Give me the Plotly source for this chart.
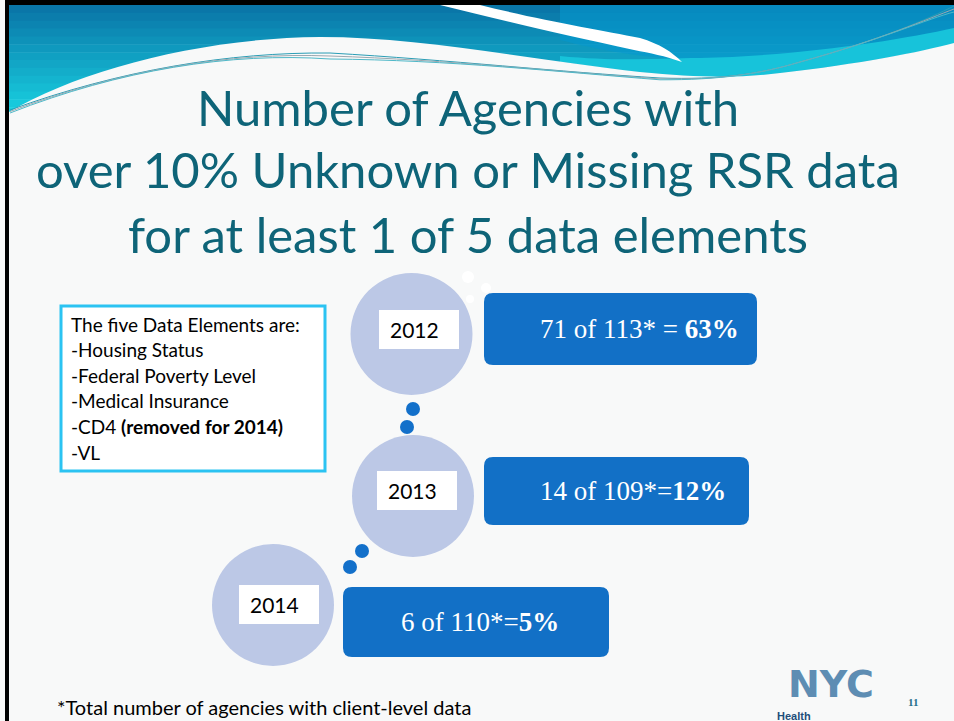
import plotly.graph_objects as go

# ---- data ----
years = ["2012", "2013", "2014"]
flagged = [71, 14, 6]
totals = [113, 109, 110]
percents = [63, 12, 5]
elements = ["-Housing Status", "-Federal Poverty Level", "-Medical Insurance",
            "-CD4 <b>(removed for 2014)</b>", "-VL"]
title_lines = ["Number of Agencies with",
               "over 10% Unknown or Missing RSR data",
               "for at least 1 of 5 data elements"]

# ---- layout constants (positions in page pixels) ----
W, H = 954, 721
circ_c = [(411.5, 334), (413, 496), (273, 605)]
circ_r = 61
label_box = [(379, 310, 459, 349), (377, 471, 457, 510), (239, 585, 319, 624)]
blue_box = [(484, 293, 757, 365), (484, 457, 749, 525), (343, 587, 609, 657)]
text_c = [(639, 329), (633, 491), (480, 622)]
dots = [(413, 409), (407, 427), (362, 551), (350, 567)]

TEAL = "#0E6478"
CIRC = "#BCC8E6"
BLUE = "#1270C6"
BG = "#F8F9F9"
FONT = "Lato"
SERIF = "Liberation Serif"

shapes = []
ann = []

def hexmix(a, b, t):
    a = [int(a[i:i+2], 16) for i in (1, 3, 5)]
    b = [int(b[i:i+2], 16) for i in (1, 3, 5)]
    return "#%02x%02x%02x" % tuple(round(a[k] + (b[k]-a[k])*t) for k in range(3))

# header gradient bands
nb = 14
y0, y1 = 5, 115
for i in range(nb):
    ya = y0 + (y1-y0)*i/nb
    yb = y0 + (y1-y0)*(i+1)/nb + 0.5
    shapes.append(dict(type="rect", x0=9, x1=W, y0=ya, y1=yb, line_width=0,
                       fillcolor=hexmix("#0A76A8", "#18D0E0", i/(nb-1)), layer="below"))
# right-side medium blue tint
shapes.append(dict(type="path", layer="below", line_width=0, fillcolor="#0598CF", opacity=0.6,
                   path="M 560,5 L 954,5 L 954,40 C 900,50 800,62 700,60 C 640,58 600,50 560,40 Z"))
# cyan stripe on the right
shapes.append(dict(type="path", layer="below", line_width=0, fillcolor="#17C3DA",
                   path="M 560,56 C 620,62 660,58 700,58 C 800,56 900,40 954,28 L 954,44 "
                        "C 920,52 860,64 780,73 C 740,78 700,78 640,72 C 600,68 580,64 560,62 Z"))
# white streak
shapes.append(dict(type="path", layer="below", line_width=0, fillcolor="white",
                   path="M 440,5 L 480,5 C 540,20 600,30 640,38 C 660,44 672,52 682,62 "
                        "C 665,56 650,53 634,50 C 560,34 500,20 440,5 Z"))
# white area below the wave
shapes.append(dict(type="path", layer="below", line_width=0, fillcolor=BG,
                   path="M 9,112 C 80,70 200,38 320,37 C 420,37 520,58 640,72 "
                        "C 700,78 740,78 780,73 C 860,64 920,52 954,43 L 954,130 L 9,130 Z"))
# thin decorative lines
for off, col in [(0, "#2A9DB5"), (3, "#9AA8B0"), (6, "#4FB8C8")]:
    shapes.append(dict(type="path", layer="below", line=dict(color=col, width=1),
                       path=f"M 10,{110+off*0.5} C 120,70 230,52 330,{53+off} "
                            f"C 450,60 560,72 660,{78+off*0.3} C 720,80 760,74 800,62 C 880,40 930,18 954,{6+off}"))

# border
shapes.append(dict(type="rect", x0=5, x1=W+2, y0=0, y1=5, line_width=0, fillcolor="black"))
shapes.append(dict(type="rect", x0=5, x1=9, y0=0, y1=H+2, line_width=0, fillcolor="black"))

# title
for line, yc in zip(title_lines, [107, 169, 234]):
    ann.append(dict(x=468, y=yc, text=line, showarrow=False, xanchor="center", yanchor="middle",
                    font=dict(family=FONT, size=49, color=TEAL)))

# text box
shapes.append(dict(type="rect", x0=61, x1=325, y0=306, y1=471, fillcolor="white",
                   line=dict(color="#2BC3F2", width=3)))
box_lines = ["The five Data Elements are:"] + elements
for i, t in enumerate(box_lines):
    ann.append(dict(x=69, y=324 + i*25.6, text=t, showarrow=False, xanchor="left", yanchor="middle",
                    font=dict(family=FONT, size=19, color="black")))

# small white dots near first circle
for (cx, cy, r) in [(468, 277, 6), (486, 288, 5), (470, 299, 4)]:
    shapes.append(dict(type="circle", x0=cx-r, x1=cx+r, y0=cy-r, y1=cy+r, line_width=0, fillcolor="white"))

# circles, labels, blue boxes
for i in range(len(years)):
    cx, cy = circ_c[i]
    shapes.append(dict(type="circle", x0=cx-circ_r, x1=cx+circ_r, y0=cy-circ_r, y1=cy+circ_r,
                       line_width=0, fillcolor=CIRC))
    lx0, ly0, lx1, ly1 = label_box[i]
    shapes.append(dict(type="rect", x0=lx0, x1=lx1, y0=ly0, y1=ly1, line_width=0, fillcolor="white"))
    ann.append(dict(x=lx0+9, y=(ly0+ly1)/2, text=years[i], showarrow=False, xanchor="left",
                    yanchor="middle", font=dict(family=FONT, size=21, color="black")))
    bx0, by0, bx1, by1 = blue_box[i]
    r = 9
    shapes.append(dict(type="path", line_width=0, fillcolor=BLUE,
                       path=f"M {bx0+r},{by0} L {bx1-r},{by0} Q {bx1},{by0} {bx1},{by0+r} "
                            f"L {bx1},{by1-r} Q {bx1},{by1} {bx1-r},{by1} L {bx0+r},{by1} "
                            f"Q {bx0},{by1} {bx0},{by1-r} L {bx0},{by0+r} Q {bx0},{by0} {bx0+r},{by0} Z"))
    if i == 0:
        txt = f"{flagged[i]} of {totals[i]}* = <b>{percents[i]}%</b>"
    else:
        txt = f"{flagged[i]} of {totals[i]}*=<b>{percents[i]}%</b>"
    tx, ty = text_c[i]
    ann.append(dict(x=tx, y=ty, text=txt, showarrow=False, xanchor="center", yanchor="middle",
                    font=dict(family=SERIF, size=27, color="white")))

for (cx, cy) in dots:
    shapes.append(dict(type="circle", x0=cx-7, x1=cx+7, y0=cy-7, y1=cy+7, line_width=0, fillcolor="#1370CA"))

# footer
ann.append(dict(x=55, y=707, text="*Total number of agencies with client-level data", showarrow=False,
                xanchor="left", yanchor="middle", font=dict(family=FONT, size=20, color="black")))
# NYC Health logo
ann.append(dict(x=831, y=684, text="<b>NYC</b>", showarrow=False, xanchor="center", yanchor="middle",
                font=dict(family="DejaVu Sans", size=38, color="#5E8DB3")))
ann.append(dict(x=775, y=716, text="<b>Health</b>", showarrow=False, xanchor="left", yanchor="middle",
                font=dict(family="Liberation Sans", size=11, color="#1F4E7A")))
ann.append(dict(x=913, y=702, text="<b>11</b>", showarrow=False, xanchor="center", yanchor="middle",
                font=dict(family=SERIF, size=11, color="#1F6F8B")))

fig = go.Figure()
fig.update_layout(
    width=W, height=H, margin=dict(l=0, r=0, t=0, b=0),
    paper_bgcolor="white", plot_bgcolor=BG,
    xaxis=dict(range=[0, W], visible=False, fixedrange=True),
    yaxis=dict(range=[H, 0], visible=False, fixedrange=True),
    shapes=shapes, annotations=ann, showlegend=False,
)
fig.write_html("out.html", config={"displayModeBar": False},
               post_script="document.body.style.margin='0';document.body.style.overflow='hidden';")
